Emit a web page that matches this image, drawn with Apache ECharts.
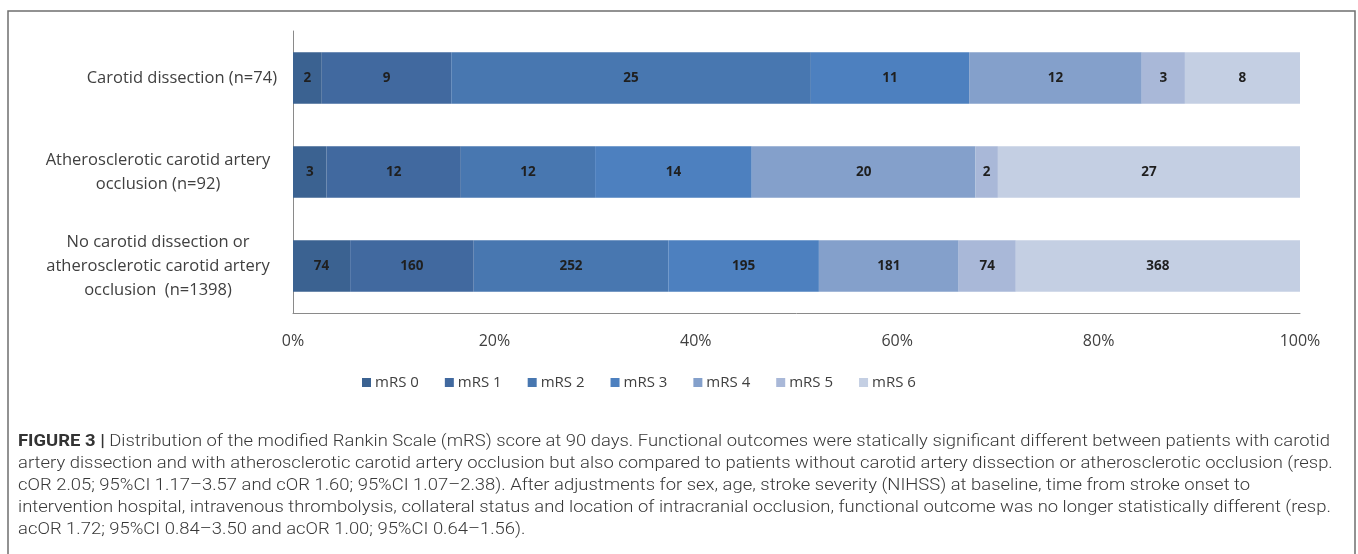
<!DOCTYPE html>
<html>
<head>
<meta charset="utf-8">
<script src="https://cdn.jsdelivr.net/npm/echarts@6/dist/echarts.min.js"></script>
<style>
html,body{margin:0;padding:0;background:#fff;}
#main{width:1358px;height:554px;}
</style>
</head>
<body>
<div id="main"></div>
<script>
// ---- data ----
var categories = [
  "Carotid dissection (n=74)",
  "Atherosclerotic carotid artery\nocclusion (n=92)",
  "No carotid dissection or\natherosclerotic carotid artery\nocclusion  (n=1398)"
];
var seriesNames = ["mRS 0","mRS 1","mRS 2","mRS 3","mRS 4","mRS 5","mRS 6"];
var mrs0 = [2, 3, 74];
var mrs1 = [9, 12, 160];
var mrs2 = [25, 12, 252];
var mrs3 = [11, 14, 195];
var mrs4 = [12, 20, 181];
var mrs5 = [3, 2, 74];
var mrs6 = [8, 27, 368];
var xTickLabels = ["0%","20%","40%","60%","80%","100%"];
var captionLines = [
  "Distribution of the modified Rankin Scale (mRS) score at 90 days. Functional outcomes were statically significant different between patients with carotid",
  "artery dissection and with atherosclerotic carotid artery occlusion but also compared to patients without carotid artery dissection or atherosclerotic occlusion (resp.",
  "cOR 2.05; 95%CI 1.17–3.57 and cOR 1.60; 95%CI 1.07–2.38). After adjustments for sex, age, stroke severity (NIHSS) at baseline, time from stroke onset to",
  "intervention hospital, intravenous thrombolysis, collateral status and location of intracranial occlusion, functional outcome was no longer statistically different (resp.",
  "acOR 1.72; 95%CI 0.84–3.50 and acOR 1.00; 95%CI 0.64–1.56)."
];

// ---- styles ----
var colors = ["#3B6291","#41699F","#4877B0","#4D80BF","#84A0CB","#A9B8D8","#C4CFE3"];
var counts = [mrs0, mrs1, mrs2, mrs3, mrs4, mrs5, mrs6];
var totals = categories.map(function(_, i){
  var s = 0; counts.forEach(function(a){ s += a[i]; }); return s;
});
var labelFont = 'Open Sans';

var series = counts.map(function(arr, si){
  return {
    name: seriesNames[si],
    type: 'bar',
    stack: 'total',
    barCategoryGap: '45%',
    itemStyle: { color: colors[si] },
    label: {
      show: true,
      position: 'inside',
      color: '#1f1f1f',
      fontFamily: labelFont,
      fontWeight: 'bold',
      fontSize: 13.5,
      formatter: function(p){ return counts[si][p.dataIndex]; }
    },
    data: arr.map(function(v, i){ return v / totals[i] * 100; })
  };
});

// caption: measure first line and stretch horizontally to the figure width
var capFont = 'Roboto';
var capSize = 16.5;
var cnv = document.createElement('canvas').getContext('2d');
cnv.font = 'bold ' + capSize + 'px ' + capFont;
var wBold = cnv.measureText('FIGURE 3 | ').width;
cnv.font = '300 ' + capSize + 'px ' + capFont;
var wLine = cnv.measureText(captionLines[0]).width;
var capScale = 1312 / (wBold + wLine);

var capGraphics = captionLines.map(function(line, i){
  var txt = i === 0 ? '{b|FIGURE 3 |} ' + line : line;
  return {
    type: 'text',
    x: 18,
    y: 433 + i * 22,
    scaleX: capScale,
    style: {
      text: txt,
      fontFamily: capFont,
      fontSize: capSize,
      fontWeight: 300,
      fill: '#383838',
      rich: { b: { fontFamily: capFont, fontSize: capSize, fontWeight: 'bold', fill: '#333' } }
    }
  };
});

var chart = echarts.init(document.getElementById('main'), null, {renderer: 'canvas'});
chart.setOption({
  backgroundColor: '#fff',
  animation: false,
  color: colors,
  grid: { left: 293, right: 58, top: 31, bottom: 241, containLabel: false },
  legend: {
    data: seriesNames,
    left: 357,
    top: 370,
    itemWidth: 9,
    itemHeight: 9,
    itemGap: 26,
    icon: 'rect',
    textStyle: { fontFamily: labelFont, fontSize: 15, color: '#404040', padding: [0,0,0,-1] }
  },
  xAxis: {
    type: 'value',
    min: 0, max: 100, interval: 20,
    axisLine: { show: true, lineStyle: { color: '#8a8a8a', width: 1 } },
    axisTick: { show: false },
    splitLine: { show: false },
    axisLabel: {
      margin: 20,
      fontFamily: labelFont, fontSize: 16, color: '#404040',
      formatter: function(v){ return xTickLabels[Math.round(v / 20)]; }
    }
  },
  yAxis: {
    type: 'category',
    inverse: true,
    data: categories,
    axisLine: { show: true, lineStyle: { color: '#8a8a8a', width: 1 } },
    axisTick: { show: false },
    axisLabel: {
      margin: 16,
      align: 'right',
      fontFamily: labelFont, fontSize: 16.5, color: '#404040',
      lineHeight: 24,
      formatter: function(v, idx){
        if (idx === 0) return v;
        return v.split('\n').map(function(l){ return '{c|' + l + '}'; }).join('\n');
      },
      rich: {
        c: { width: 238, align: 'center', fontFamily: labelFont, fontSize: 16.5, color: '#404040', lineHeight: 24 }
      }
    }
  },
  graphic: [{
    type: 'rect',
    shape: { x: 8, y: 11, width: 1347, height: 560 },
    style: { fill: 'none', stroke: '#6f6f6f', lineWidth: 1.5 },
    silent: true
  }].concat(capGraphics),
  series: series
});
</script>
</body>
</html>
